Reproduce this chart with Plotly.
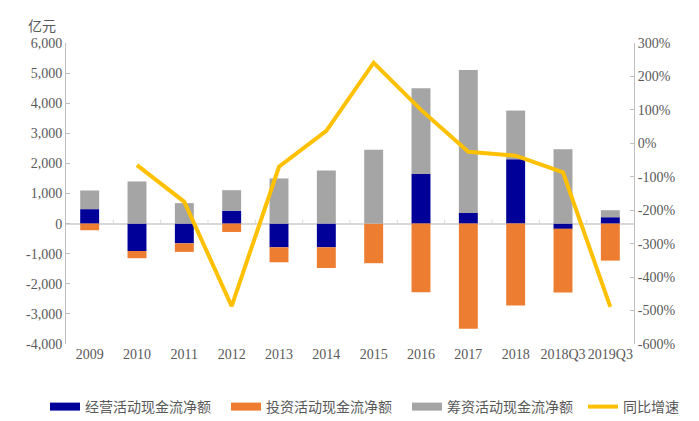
import plotly.graph_objects as go

categories = ["2009", "2010", "2011", "2012", "2013", "2014", "2015", "2016", "2017", "2018", "2018Q3", "2019Q3"]
operating = [480, -910, -655, 430, -787, -787, 0, 1650, 355, 2140, -175, 212]
investing = [-220, -240, -285, -278, -498, -688, -1316, -2280, -3490, -2725, -2115, -1230]
financing = [620, 1400, 680, 680, 1500, 1760, 2450, 2850, 4745, 1615, 2470, 233]
yoy_growth = [None, -65, -175, -487, -70, 37, 241, 100, -25, -37, -87, -489]

series_names = ["经营活动现金流净额", "投资活动现金流净额", "筹资活动现金流净额", "同比增速"]
series_colors = ["#000099", "#ED7D31", "#A5A5A5", "#FFC000"]

left_ticks = [-4000, -3000, -2000, -1000, 0, 1000, 2000, 3000, 4000, 5000, 6000]
left_text = ["-4,000", "-3,000", "-2,000", "-1,000", "0", "1,000", "2,000", "3,000", "4,000", "5,000", "6,000"]
right_ticks = [-600, -500, -400, -300, -200, -100, 0, 100, 200, 300]
right_text = ["-600%", "-500%", "-400%", "-300%", "-200%", "-100%", "0%", "100%", "200%", "300%"]

serif = "Liberation Serif, Times New Roman, serif"
cjk = "Noto Sans CJK SC"
tick_color = "#595959"
axis_color = "#BFBFBF"

fig = go.Figure()
for vals, name, color in zip([operating, investing, financing], series_names[:3], series_colors[:3]):
    fig.add_trace(go.Bar(x=categories, y=vals, name=name, showlegend=False,
                         marker=dict(color=color, line=dict(width=0))))
fig.add_trace(go.Scatter(x=categories, y=yoy_growth, name=series_names[3], yaxis="y2",
                         mode="lines", line=dict(color=series_colors[3], width=4),
                         connectgaps=False, showlegend=False))

# legend proxies (wide flat swatches like the reference)
for i, (name, color) in enumerate(zip(series_names, series_colors)):
    fig.add_trace(go.Scatter(x=[None], y=[None], name=name, mode="lines",
                             line=dict(color=color, width=8 if i < 3 else 4),
                             showlegend=True, legend="legend" if i < 3 else "legend2"))

# small tick marks on the zero line between categories
shapes = []
for i in range(len(categories) - 1):
    shapes.append(dict(type="line", xref="x", yref="y", x0=i + 0.5, x1=i + 0.5,
                       y0=0, y1=130, line=dict(color="#D9D9D9", width=1)))

legend_font = dict(family=cjk, size=14, color=tick_color)
legend_y = -63 / 301

# page body has an 8px default margin, so the figure is drawn 8px smaller
fig.update_layout(
    width=691, height=413,
    margin=dict(l=58, r=65, t=35, b=77, autoexpand=False),
    paper_bgcolor="white", plot_bgcolor="white",
    barmode="relative", bargap=0.6,
    showlegend=True,
    legend=dict(orientation="h", x=(37 - 58) / 568, xanchor="left",
                y=legend_y, yanchor="middle",
                font=legend_font, itemwidth=30, entrywidth=136, traceorder="normal"),
    legend2=dict(orientation="h", x=(575 - 58) / 568, xanchor="left",
                 y=legend_y, yanchor="middle",
                 font=legend_font, itemwidth=30),
    xaxis=dict(type="category", showgrid=False, showline=False, zeroline=False,
               automargin=False,
               ticks="", tickfont=dict(family=serif, size=14, color=tick_color),
               range=[-0.5, len(categories) - 0.5]),
    yaxis=dict(range=[-4000, 6000], tickvals=left_ticks, ticktext=left_text,
               automargin=False,
               showgrid=False, showline=True, linecolor=axis_color, linewidth=1,
               ticks="inside", ticklen=4, tickcolor=axis_color,
               zeroline=True, zerolinecolor="#D9D9D9", zerolinewidth=2,
               tickfont=dict(family=serif, size=14, color=tick_color)),
    yaxis2=dict(range=[-600, 300], tickvals=right_ticks, ticktext=right_text,
                automargin=False,
                overlaying="y", side="right", showgrid=False, zeroline=False,
                showline=True, linecolor=axis_color, linewidth=1,
                ticks="inside", ticklen=4, tickcolor=axis_color,
                tickfont=dict(family=serif, size=14, color=tick_color)),
    shapes=shapes,
    annotations=[dict(text="亿元", xref="paper", yref="paper", x=(34 - 58) / 568, y=1.0,
                      xanchor="center", yanchor="middle", yshift=18, showarrow=False,
                      font=dict(family=cjk, size=14, color=tick_color))],
)

fig.write_html("out.html")
